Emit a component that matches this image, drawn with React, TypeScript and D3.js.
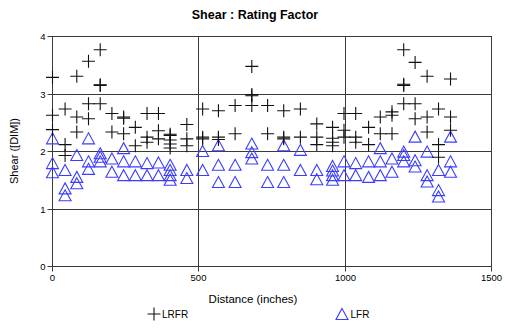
import React from "react";
import * as d3 from "d3";

const W = 505;
const H = 328;

const title = "Shear : Rating Factor";
const xTitle = "Distance (inches)";
const yTitle = "Shear ([DIM])";
const xTicks = [0, 500, 1000, 1500];
const yTicks = [0, 1, 2, 3, 4];

// stations along the member (inches)
const stations = [
  0, 43, 83, 123, 163, 203, 243, 283, 323, 362, 402, 459, 513, 567, 624, 681,
  735, 790, 847, 903, 957, 996, 1036, 1080, 1120, 1160, 1200, 1239, 1280, 1319, 1360,
];

// LRFR rating factors at each station
const lrfr = [
  [3.29, 2.63, 2.38],
  [2.74, 2.12, 1.93],
  [3.31, 2.6, 2.34],
  [3.57, 2.83, 2.57],
  [3.77, 3.16, 3.15, 2.83],
  [2.66, 2.34],
  [2.6, 2.58, 2.31],
  [2.42, 2.1],
  [2.66, 2.25, 2.16],
  [2.66, 2.36, 2.22],
  [2.3, 2.28, 2.2, 2.13, 2.06],
  [2.47, 2.22, 2.1],
  [2.74, 2.25, 2.22],
  [2.71, 2.25, 2.21],
  [2.8, 2.31],
  [3.48, 2.99, 2.97, 2.8],
  [2.8, 2.31],
  [2.71, 2.25, 2.22],
  [2.74, 2.25],
  [2.48, 2.25, 2.12],
  [2.42, 2.23, 2.16, 2.1],
  [2.66, 2.37, 2.25],
  [2.66, 2.25, 2.16],
  [2.42, 2.12],
  [2.6, 2.31],
  [2.69, 2.63, 2.31],
  [3.77, 3.17, 3.15, 2.83],
  [3.55, 2.83, 2.57],
  [3.31, 2.6, 2.34],
  [2.74, 2.12, 1.9],
  [3.26, 2.6, 2.37],
];

// LFR rating factors at each station
const lfr = [
  [2.22, 1.79, 1.63],
  [1.67, 1.35, 1.23],
  [1.93, 1.55, 1.44],
  [2.22, 1.82, 1.69],
  [1.96, 1.9, 1.82],
  [1.87, 1.64],
  [2.05, 1.82, 1.58],
  [1.82, 1.58],
  [1.79, 1.58],
  [1.8, 1.58],
  [1.76, 1.67, 1.58, 1.5],
  [1.67, 1.53],
  [2.0, 1.67],
  [2.1, 1.76, 1.46],
  [1.76, 1.46],
  [2.13, 1.98, 1.87],
  [1.76, 1.46],
  [2.1, 1.76, 1.46],
  [2.02, 1.67],
  [1.67, 1.51],
  [1.74, 1.66, 1.58, 1.5],
  [1.82, 1.58],
  [1.79, 1.58],
  [1.82, 1.55],
  [2.05, 1.82, 1.58],
  [1.87, 1.64],
  [1.99, 1.93, 1.82],
  [2.25, 1.84, 1.73],
  [1.99, 1.58, 1.47],
  [1.67, 1.32, 1.21],
  [2.25, 1.82, 1.64],
];

const FONT = "'Liberation Sans', Arial, sans-serif";
const BLUE = "#3c3cff";
const GRID = "#3a3a3a";

const crossPath = (x: number, y: number, r = 6.5) =>
  `M${x - r},${y}H${x + r}M${x},${y - r}V${y + r}`;
const triPath = (x: number, y: number) =>
  `M${x},${y - 6}L${x + 6},${y + 5}L${x - 6},${y + 5}Z`;

export default function App() {
  const x = d3.scaleLinear().domain([0, 1500]).range([52.5, 491.5]);
  const y = d3.scaleLinear().domain([0, 4]).range([266.5, 36.5]);
  const px = (v: number) => Math.round(x(v) - 0.5) + 0.5;
  const py = (v: number) => Math.round(y(v) - 0.5) + 0.5;

  const lrfrPts: [number, number][] = [];
  stations.forEach((s, i) => lrfr[i].forEach((v) => lrfrPts.push([s, v])));
  const lfrPts: [number, number][] = [];
  stations.forEach((s, i) => lfr[i].forEach((v) => lfrPts.push([s, v])));

  const x0 = px(0), x1 = px(1500), y0 = py(0), y1 = py(4);

  return (
    <svg
      width={W}
      height={H}
      style={{ position: "absolute", left: 0, top: 0, background: "#fff" }}
      fontFamily={FONT}
    >
      <rect width={W} height={H} fill="#fff" />
      <text x={255} y={19} textAnchor="middle" fontSize={12.5} fontWeight="bold" fill="#000">
        {title}
      </text>

      {/* grid */}
      {xTicks.slice(1, -1).map((t) => (
        <line key={"gx" + t} x1={px(t)} x2={px(t)} y1={y1} y2={y0} stroke={GRID} strokeWidth={1} />
      ))}
      {yTicks.slice(1, -1).map((t) => (
        <line key={"gy" + t} x1={x0} x2={x1} y1={py(t)} y2={py(t)} stroke={GRID} strokeWidth={1} />
      ))}
      <rect x={x0} y={y1} width={x1 - x0} height={y0 - y1} fill="none" stroke={GRID} strokeWidth={1} />

      {/* ticks */}
      {yTicks.map((t) => (
        <g key={"ty" + t}>
          <line x1={x0 - 5} x2={x0} y1={py(t)} y2={py(t)} stroke={GRID} />
          <text x={x0 - 7} y={py(t) + 3.5} textAnchor="end" fontSize={9.5} fill="#000">
            {t}
          </text>
        </g>
      ))}
      {xTicks.map((t) => (
        <g key={"tx" + t}>
          <line x1={px(t)} x2={px(t)} y1={y0} y2={y0 + 5} stroke={GRID} />
          <text x={px(t)} y={281} textAnchor="middle" fontSize={9.5} fill="#000">
            {t}
          </text>
        </g>
      ))}

      <text x={253} y={303} textAnchor="middle" fontSize={11.5} fill="#000">
        {xTitle}
      </text>
      <text
        transform="translate(18,151) rotate(-90)"
        textAnchor="middle"
        fontSize={11}
        fill="#000"
      >
        {yTitle}
      </text>

      {/* LFR triangles */}
      {lfrPts.map(([s, v], i) => (
        <path key={"t" + i} d={triPath(x(s), y(v))} fill="none" stroke={BLUE} strokeWidth={1.1} />
      ))}
      {/* LRFR crosses */}
      {lrfrPts.map(([s, v], i) => (
        <path key={"c" + i} d={crossPath(x(s), y(v))} fill="none" stroke="#111" strokeWidth={1.1} />
      ))}

      {/* legend */}
      <path d={crossPath(154, 314)} stroke="#111" strokeWidth={1.1} fill="none" />
      <text x={162} y={318} fontSize={10} fill="#000">LRFR</text>
      <path d={triPath(342, 314.5)} stroke={BLUE} strokeWidth={1.1} fill="none" />
      <text x={350.5} y={318} fontSize={10} fill="#000">LFR</text>
    </svg>
  );
}
